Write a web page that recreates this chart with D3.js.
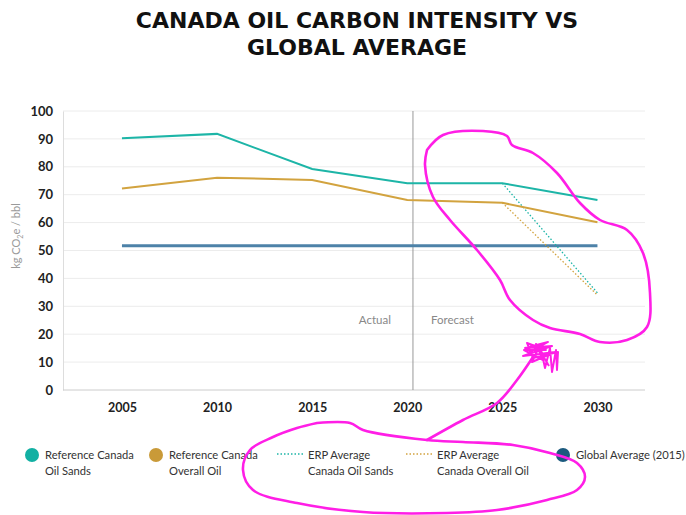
<!DOCTYPE html>
<html>
<head>
<meta charset="utf-8">
<script src="https://cdn.jsdelivr.net/npm/d3@7"></script>
<style>
  body { margin: 0; background: #fff; }
  svg { font-family: Lato, "Open Sans", sans-serif; }
</style>
</head>
<body>
<div id="container"></div>
<script>
var w = 686;
var h = 515;

// data
var years = [2005, 2010, 2015, 2020, 2025, 2030];
var oilSands = [90.2, 91.8, 79.2, 74.1, 74.1, 68.1];
var overallOil = [72.2, 76.1, 75.3, 68.1, 67.1, 60.1];
var globalAvg = [51.7, 51.7, 51.7, 51.7, 51.7, 51.7];
var erpYears = [2025, 2030];
var erpOilSands = [74.1, 34.8];
var erpOverall = [67.1, 34.0];
var yTicks = [0, 10, 20, 30, 40, 50, 60, 70, 80, 90, 100];
var splitYear = 2020.3;

var teal = "#1db5a7";
var gold = "#d2a33f";
var blue = "#4d82a8";

var svg = d3.select("div#container").append("svg")
  .attr("width", w).attr("height", h);

var x = d3.scaleLinear().domain([2001.9, 2032.5]).range([63, 645]);
var y = d3.scaleLinear().domain([0, 100]).range([390, 111]);

// title
var title = svg.append("text")
  .attr("text-anchor", "middle")
  .attr("font-family", "'DejaVu Sans', sans-serif")
  .attr("font-size", "22px")
  .attr("font-weight", 700)
  .attr("fill", "#111");
title.append("tspan").attr("x", 357).attr("y", 28).text("CANADA OIL CARBON INTENSITY VS");
title.append("tspan").attr("x", 357).attr("y", 55).text("GLOBAL AVERAGE");

// grid
svg.append("g")
  .selectAll("line")
  .data(yTicks.slice(1))
  .enter().append("line")
  .attr("x1", x.range()[0]).attr("x2", x.range()[1])
  .attr("y1", function(d) { return y(d); })
  .attr("y2", function(d) { return y(d); })
  .attr("stroke", "#ececec")
  .attr("stroke-width", 1);

// y axis
var yAxis = svg.append("g")
  .attr("transform", "translate(" + x.range()[0] + ",0)")
  .call(d3.axisLeft(y).tickValues(yTicks).tickSize(0).tickPadding(10));
yAxis.select(".domain").attr("stroke", "#ddd");
yAxis.selectAll("text")
  .attr("font-family", "Lato, sans-serif")
  .attr("font-size", "13px")
  .attr("font-weight", 700)
  .attr("fill", "#222");

// x axis
var xAxis = svg.append("g")
  .attr("transform", "translate(0," + y(0) + ")")
  .call(d3.axisBottom(x).tickValues(years).tickFormat(d3.format("d")).tickSize(0).tickPadding(13));
xAxis.select(".domain").attr("stroke", "#ccc").attr("d", "M" + x.range()[0] + ",0H" + x.range()[1]);
xAxis.selectAll("text")
  .attr("font-family", "Lato, sans-serif")
  .attr("font-size", "12.5px")
  .attr("font-weight", 700)
  .attr("fill", "#222");

// y label
svg.append("text")
  .attr("transform", "translate(20," + 236 + ") rotate(-90)")
  .attr("text-anchor", "middle")
  .attr("font-size", "11px")
  .attr("fill", "#9a9a9a")
  .html('kg CO<tspan font-size="7px" dy="3">2</tspan><tspan dy="-3">e / bbl</tspan>');

// actual / forecast divider
svg.append("line")
  .attr("x1", x(splitYear)).attr("x2", x(splitYear))
  .attr("y1", y(100)).attr("y2", y(0))
  .attr("stroke", "#999").attr("stroke-width", 1);
svg.append("text")
  .attr("x", x(splitYear) - 22).attr("y", y(23.5))
  .attr("text-anchor", "end")
  .attr("font-size", "11.5px").attr("fill", "#888")
  .text("Actual");
svg.append("text")
  .attr("x", x(splitYear) + 18).attr("y", y(23.5))
  .attr("font-size", "11.5px").attr("fill", "#888")
  .text("Forecast");

var line = d3.line()
  .x(function(d) { return x(d[0]); })
  .y(function(d) { return y(d[1]); });

function pts(xs, ys) { return xs.map(function(v, i) { return [v, ys[i]]; }); }

svg.append("path").datum(pts(years, globalAvg))
  .attr("d", line).attr("fill", "none").attr("stroke", blue).attr("stroke-width", 3);
svg.append("path").datum(pts(erpYears, erpOverall))
  .attr("d", line).attr("fill", "none").attr("stroke", gold).attr("stroke-width", 1.3)
  .attr("stroke-dasharray", "1.5,2");
svg.append("path").datum(pts(erpYears, erpOilSands))
  .attr("d", line).attr("fill", "none").attr("stroke", teal).attr("stroke-width", 1.3)
  .attr("stroke-dasharray", "1.5,2");
svg.append("path").datum(pts(years, overallOil))
  .attr("d", line).attr("fill", "none").attr("stroke", gold).attr("stroke-width", 2);
svg.append("path").datum(pts(years, oilSands))
  .attr("d", line).attr("fill", "none").attr("stroke", teal).attr("stroke-width", 2);

// legend
var legend = [
  { kind: "dot", color: "#12b0a3", x: 32, lines: ["Reference Canada", "Oil Sands"] },
  { kind: "dot", color: "#c99a38", x: 156, lines: ["Reference Canada", "Overall Oil"] },
  { kind: "dash", color: teal, x: 277, lines: ["ERP Average", "Canada Oil Sands"] },
  { kind: "dash", color: gold, x: 406, lines: ["ERP Average", "Canada Overall Oil"] },
  { kind: "dot", color: "#1b5a7e", x: 563, lines: ["Global Average (2015)"] }
];
var lg = svg.append("g").selectAll("g").data(legend).enter().append("g")
  .attr("transform", function(d) { return "translate(" + d.x + ",455)"; });
lg.filter(function(d) { return d.kind == "dot"; }).append("circle")
  .attr("r", 7).attr("fill", function(d) { return d.color; });
lg.filter(function(d) { return d.kind == "dash"; }).append("line")
  .attr("x1", 0).attr("x2", 26).attr("y1", -1).attr("y2", -1)
  .attr("stroke", function(d) { return d.color; })
  .attr("stroke-width", 1.5).attr("stroke-dasharray", "1.5,2");
lg.append("text")
  .attr("x", function(d) { return d.kind == "dot" ? 13 : 31; })
  .attr("font-size", "11.2px").attr("fill", "#333")
  .selectAll("tspan").data(function(d) { return d.lines; }).enter().append("tspan")
  .attr("x", function() { return d3.select(this.parentNode).attr("x"); })
  .attr("y", function(d, i) { return 4 + i * 16; })
  .text(function(d) { return d; });

// hand-drawn magenta annotations (pixel positions)
var loopTop = [[427,150],[443,135],[483,131],[507,136],[512,145],[533,153],[557,173],[580,203],
  [600,220],[627,230],[643,253],[650,293],[647,327],[627,340],[600,342],[580,334],[550,328],
  [533,320],[510,300],[500,280],[477,250],[450,220],[433,197],[425,165],[427,150]];
var loopBottom = [[317,423],[350,423],[363,430],[427,440],[463,442],[513,445],[550,453],[577,463],
  [585,477],[577,490],[547,500],[497,510],[447,513],[363,512],[297,503],[253,490],[243,470],
  [250,450],[273,437],[297,428],[317,423]];
var leader = [[427,440],[463,420],[497,403],[517,380],[533,357]];
var scribble = [[530,352],[548,342],[525,348],[552,346],[523,356],[555,352],[532,362],[540,345],
  [545,368],[550,348],[552,372],[556,350],[557,370],[558,352],[533,358],[527,343],[546,350],
  [524,350],[543,360],[536,344],[549,366]];

var hand = d3.line().curve(d3.curveCatmullRom);
[loopTop, loopBottom, leader].forEach(function(p) {
  svg.append("path").attr("d", hand(p)).attr("fill", "none")
    .attr("stroke", "#ff1ee6").attr("stroke-width", 2.6)
    .attr("stroke-linecap", "round").attr("stroke-linejoin", "round");
});
svg.append("path").attr("d", d3.line()(scribble)).attr("fill", "none")
  .attr("stroke", "#ff1ee6").attr("stroke-width", 2)
  .attr("stroke-linejoin", "round");
</script>
</body>
</html>
